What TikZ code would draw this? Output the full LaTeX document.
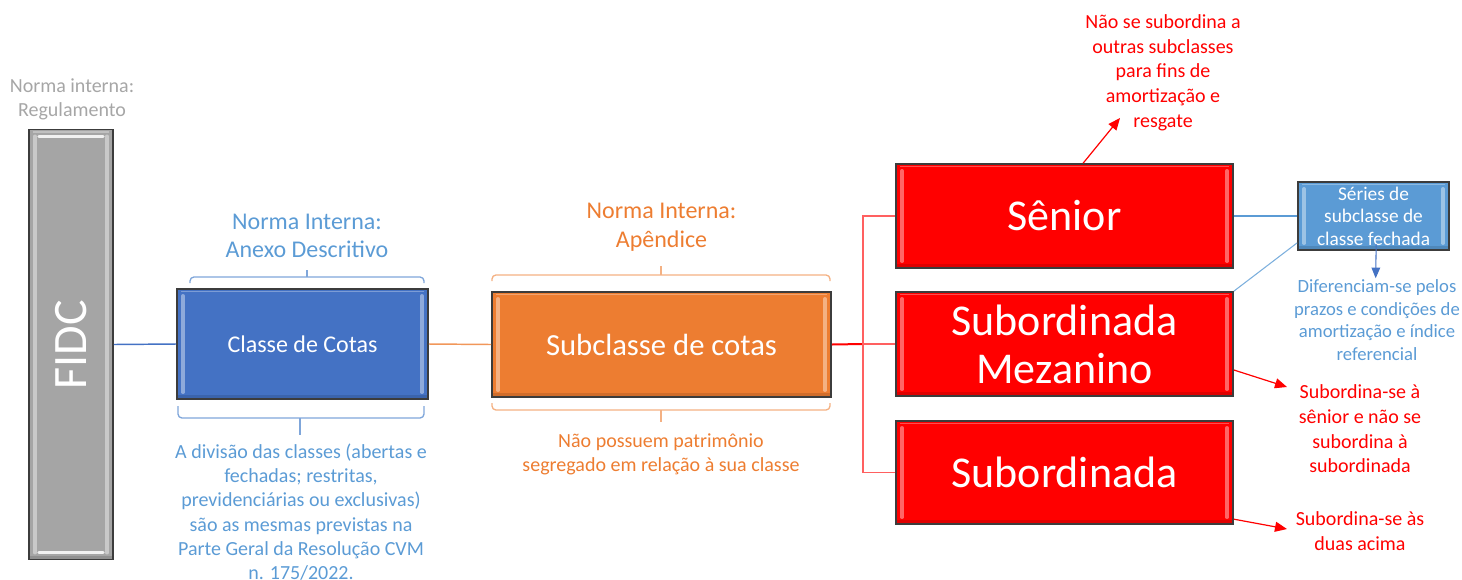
\documentclass[tikz,border=0pt]{standalone}
\usepackage{fontspec}
\setmainfont{Carlito}
\usetikzlibrary{arrows.meta,calc}
\definecolor{fidcgray}{HTML}{A5A5A5}
\definecolor{outl}{HTML}{3C3C3C}
\definecolor{cblue}{HTML}{4472C4}
\definecolor{corange}{HTML}{ED7D31}
\definecolor{cred}{HTML}{FF0000}
\definecolor{lblue}{HTML}{5B9BD5}
\definecolor{gtext}{HTML}{A6A6A6}
\definecolor{bbrace}{HTML}{7FA6DA}
\definecolor{obrace}{HTML}{F4B183}
\definecolor{redlight}{HTML}{FF6060}
\tikzset{
  bevel/.style={path picture={
    \coordinate (nw) at (path picture bounding box.north west);
    \coordinate (se) at (path picture bounding box.south east);
    \draw[white,opacity=.4,line width=2.4pt,line cap=round]
      ($(nw)+(4.5pt,-5pt)$) -- ($(nw|-se)+(4.5pt,5pt)$);
    \draw[white,opacity=.4,line width=2.4pt,line cap=round]
      ($(se|-nw)+(-4.5pt,-5pt)$) -- ($(se)+(-4.5pt,5pt)$);
    \draw[white,opacity=.3,line width=1.2pt]
      ($(nw)+(3pt,-2pt)$) -- ($(se|-nw)+(-3pt,-2pt)$);
    \draw[black,opacity=.12,line width=3pt]
      ($(nw|-se)+(0pt,1.5pt)$) -- ($(se)+(0pt,1.5pt)$);
  }},
  boxx/.style={draw=outl,line width=1.3pt,inner sep=0pt,bevel,text=white,align=center},
  conn/.style={line width=1.1pt},
  brc/.style={line width=1pt,rounded corners=3pt},
  lab/.style={align=center,inner sep=1pt},
  redarrow/.style={draw=cred,line width=0.9pt,-{Triangle[length=9pt,width=7.5pt]}},
  bluearrow/.style={draw=cblue,line width=0.8pt,-{Triangle[length=8pt,width=6.5pt]}}
}
\begin{document}
\begin{tikzpicture}[x=0.75pt,y=-0.75pt]
\useasboundingbox (0,0) rectangle (1462,579);
% FIDC
\node[lab,text=gtext,font=\fontsize{15}{18}\selectfont] (regul) at (72,99) {Norma interna:\\Regulamento};
\node[boxx,fill=fidcgray,minimum width=63pt,minimum height=322.5pt] (fidc) at (71,344.5) {};
\draw[white,opacity=.85,line width=2pt,line cap=round] ([xshift=8pt,yshift=-6pt]fidc.north west) -- ([xshift=-8pt,yshift=-6pt]fidc.north east);
\draw[white,opacity=.85,line width=2pt,line cap=round] ([xshift=8pt,yshift=6pt]fidc.south west) -- ([xshift=-8pt,yshift=6pt]fidc.south east);
\node[rotate=90,text=white,font=\fontsize{36}{40}\selectfont,inner sep=0pt] (fidct) at (fidc.center) {FIDC};
% Classe
\node[lab,text=lblue,font=\fontsize{18}{21}\selectfont] (anexo) at (307,236) {Norma Interna:\\Anexo Descritivo};
\node[boxx,fill=cblue,minimum width=188.25pt,minimum height=82.5pt,font=\fontsize{18}{21}\selectfont] (classe) at (302.5,344) {Classe de Cotas};
\draw[bbrace,brc] (190,283) -- (190,277) -- (424,277) -- (424,283);
\draw[bbrace,line width=1pt] (307,277) -- (307,270);
\draw[bbrace,brc] (178,406) -- (178,418) -- (424,418) -- (424,406);
\draw[bbrace,line width=1pt] (300,418) -- (300,435);
\node[lab,text=lblue,font=\fontsize{15}{18.2}\selectfont] (divisao) at (301,512) {A divisão das classes (abertas e\\fechadas; restritas,\\previdenciárias ou exclusivas)\\são as mesmas previstas na\\Parte Geral da Resolução CVM\\n. 175/2022.};
% Subclasse
\node[lab,text=corange,font=\fontsize{18}{21.5}\selectfont] (apend) at (661.5,227) {Norma Interna:\\Apêndice};
\node[boxx,fill=corange,minimum width=254.25pt,minimum height=78.75pt,font=\fontsize{23}{26}\selectfont] (sub) at (661.5,344.5) {Subclasse de cotas};
\draw[obrace,brc] (492,281) -- (492,275) -- (830,275) -- (830,281);
\draw[obrace,line width=1pt] (661,275) -- (661,266);
\draw[obrace,brc] (492,403) -- (492,410) -- (830,410) -- (830,403);
\draw[obrace,line width=1pt] (661,410) -- (661,422);
\node[lab,text=corange,font=\fontsize{15}{18}\selectfont] (naopos) at (661,454) {Não possuem patrimônio\\segregado em relação à sua classe};
% red boxes
\node[boxx,fill=cred,minimum width=252.75pt,minimum height=78pt,font=\fontsize{33}{36}\selectfont] (sen) at (1064.5,216) {Sênior};
\node[boxx,fill=cred,minimum width=252.75pt,minimum height=78pt,font=\fontsize{33}{36}\selectfont] (mez) at (1064.5,344) {Subordinada\\Mezanino};
\node[boxx,fill=cred,minimum width=252.75pt,minimum height=77.25pt,font=\fontsize{33}{36}\selectfont] (subd) at (1064.5,472.5) {Subordinada};
% series
\node[boxx,fill=lblue,minimum width=113.25pt,minimum height=51pt,font=\fontsize{14.5}{16.8}\selectfont] (series) at (1373.5,216) {Séries de\\subclasse de\\classe fechada};
\node[lab,text=lblue,font=\fontsize{14}{16.8}\selectfont] (difer) at (1377,320) {Diferenciam-se pelos\\prazos e condições de\\amortização e índice\\referencial};
% notes
\node[lab,text=cred,font=\fontsize{15}{18.5}\selectfont] (nota1) at (1163,72.5) {Não se subordina a\\outras subclasses\\para fins de\\amortização e\\resgate};
\node[lab,text=cred,font=\fontsize{15}{18.5}\selectfont] (nota2) at (1360,429) {Subordina-se à\\sênior e não se\\subordina à\\subordinada};
\node[lab,text=cred,font=\fontsize{15}{18.5}\selectfont] (nota3) at (1360,531) {Subordina-se às\\duas acima};
% connectors
\draw[conn,cblue] (fidc.east) -- (classe.west);
\draw[conn,corange!80] (classe.east) -- (sub.west);
\coordinate (split) at (863,344);
\draw[conn,cred,line width=1.5pt] (sub.east) -- (split);
\draw[conn,redlight] (split) |- (sen.west);
\draw[conn,redlight] (split) -- (mez.west);
\draw[conn,redlight] (split) |- (subd.west);
\draw[conn,lblue] (sen.east) -- (series.west);
\draw[conn,lblue!80,line width=0.8pt] (mez.north east) -- ([yshift=6pt]series.south west);
\draw[bluearrow] ([xshift=2pt,yshift=5pt]series.south) -- ([xshift=-1pt]difer.north);
\coordinate (t1) at (1120,118);
\coordinate (t2) at (1287,387);
\coordinate (t3) at (1287,529);
\draw[redarrow] ([xshift=14pt]sen.north) -- (t1);
\draw[redarrow] ([yshift=-19.5pt]mez.east) -- (t2);
\draw[redarrow] ([yshift=-35pt]subd.east) -- (t3);
\end{tikzpicture}
\end{document}
